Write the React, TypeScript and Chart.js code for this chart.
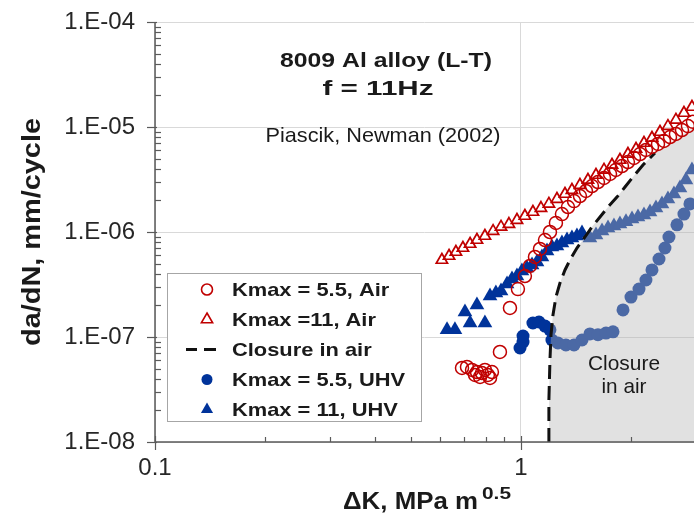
import React, { useEffect, useRef } from 'react';
import { Chart, registerables } from 'chart.js';

Chart.register(...registerables);

// ---------- data ----------
const redCircleX = [0.690, 0.712, 0.735, 0.749, 0.758, 0.773, 0.782, 0.797, 0.812, 0.823, 0.833, 0.876, 0.933, 0.981, 1.025, 1.058, 1.092, 1.127, 1.163, 1.200, 1.246, 1.294, 1.344, 1.396, 1.449, 1.505, 1.563, 1.623, 1.686, 1.751, 1.817, 1.888, 1.960, 2.036, 2.115, 2.195, 2.280, 2.368, 2.459, 2.554, 2.651, 2.754, 2.859, 2.950];
const redCircleY = [5.07e-8, 5.18e-8, 4.85e-8, 4.35e-8, 4.64e-8, 4.16e-8, 4.54e-8, 4.85e-8, 4.35e-8, 4.07e-8, 4.64e-8, 7.20e-8, 1.89e-7, 2.86e-7, 3.81e-7, 4.75e-7, 5.78e-7, 6.89e-7, 8.39e-7, 1.00e-6, 1.22e-6, 1.48e-6, 1.73e-6, 1.97e-6, 2.20e-6, 2.46e-6, 2.74e-6, 2.99e-6, 3.27e-6, 3.57e-6, 3.90e-6, 4.25e-6, 4.64e-6, 5.07e-6, 5.53e-6, 6.04e-6, 6.45e-6, 6.89e-6, 7.36e-6, 8.03e-6, 8.58e-6, 9.36e-6, 1.02e-5, 1.12e-5];

const redTriangleX = [0.608, 0.636, 0.664, 0.694, 0.726, 0.758, 0.797, 0.839, 0.882, 0.927, 0.975, 1.025, 1.078, 1.134, 1.192, 1.254, 1.319, 1.378, 1.449, 1.524, 1.603, 1.686, 1.773, 1.864, 1.960, 2.062, 2.168, 2.280, 2.398, 2.521, 2.651, 2.788, 2.932];
const redTriangleY = [5.41e-7, 5.91e-7, 6.45e-7, 7.04e-7, 7.69e-7, 8.39e-7, 9.16e-7, 1.02e-6, 1.12e-6, 1.19e-6, 1.30e-6, 1.42e-6, 1.55e-6, 1.69e-6, 1.85e-6, 2.06e-6, 2.30e-6, 2.51e-6, 2.80e-6, 3.13e-6, 3.49e-6, 3.90e-6, 4.35e-6, 4.85e-6, 5.53e-6, 6.17e-6, 7.04e-6, 7.86e-6, 8.96e-6, 1.02e-5, 1.17e-5, 1.36e-5, 1.55e-5];

const blueCircleX = [0.994, 1.013, 1.013, 1.078, 1.120, 1.163, 1.200, 1.215, 1.262, 1.327, 1.396, 1.468, 1.543, 1.623, 1.707, 1.784, 1.900, 1.998, 2.101, 2.195, 2.280, 2.383, 2.474, 2.537, 2.668, 2.788, 2.895];
const blueCircleY = [7.86e-8, 8.96e-8, 1.02e-7, 1.36e-7, 1.39e-7, 1.27e-7, 1.17e-7, 9.36e-8, 8.77e-8, 8.39e-8, 8.39e-8, 9.36e-8, 1.07e-7, 1.05e-7, 1.09e-7, 1.12e-7, 1.81e-7, 2.40e-7, 2.86e-7, 3.49e-7, 4.35e-7, 5.53e-7, 7.04e-7, 8.96e-7, 1.17e-6, 1.48e-6, 1.85e-6];

const blueTriangleX = [0.628, 0.660, 0.703, 0.726, 0.758, 0.797, 0.823, 0.854, 0.882, 0.916, 0.945, 0.975, 1.006, 1.038, 1.072, 1.106, 1.141, 1.178, 1.215, 1.254, 1.294, 1.336, 1.378, 1.422, 1.468, 1.543, 1.603, 1.665, 1.729, 1.795, 1.864, 1.936, 2.011, 2.088, 2.168, 2.252, 2.338, 2.428, 2.521, 2.618, 2.719, 2.823, 2.932];
const blueTriangleY = [1.17e-7, 1.17e-7, 1.73e-7, 1.36e-7, 2.02e-7, 1.36e-7, 2.46e-7, 2.62e-7, 2.74e-7, 3.20e-7, 3.57e-7, 3.81e-7, 4.25e-7, 4.54e-7, 4.85e-7, 5.18e-7, 5.78e-7, 6.59e-7, 7.20e-7, 7.36e-7, 7.86e-7, 8.39e-7, 8.77e-7, 9.16e-7, 9.78e-7, 8.77e-7, 9.36e-7, 1.02e-6, 1.09e-6, 1.14e-6, 1.19e-6, 1.25e-6, 1.33e-6, 1.39e-6, 1.45e-6, 1.55e-6, 1.69e-6, 1.85e-6, 2.06e-6, 2.30e-6, 2.62e-6, 3.13e-6, 3.90e-6];

const closureX = [1.192, 1.192, 1.200, 1.208, 1.223, 1.246, 1.278, 1.319, 1.361, 1.422, 1.496, 1.563, 1.644, 1.729, 1.829, 1.924, 2.023, 2.154, 2.323];
const closureY = [1.00e-8, 2.51e-8, 6.04e-8, 1.05e-7, 1.62e-7, 2.40e-7, 3.27e-7, 4.35e-7, 5.41e-7, 7.04e-7, 8.96e-7, 1.12e-6, 1.39e-6, 1.73e-6, 2.15e-6, 2.68e-6, 3.34e-6, 4.35e-6, 5.65e-6];
const shadeExtraX = [2.635, 2.970];
const shadeExtraY = [7.52e-6, 1.00e-5];

const xTickValues = [0.1, 1];
const xTickLabels = ['0.1', '1'];
const yTickValues = [1e-8, 1e-7, 1e-6, 1e-5, 1e-4];
const yTickLabels = ['1.E-08', '1.E-07', '1.E-06', '1.E-05', '1.E-04'];

const legendLabels = ['Kmax = 5.5, Air', 'Kmax =11, Air', 'Closure in air', 'Kmax = 5.5, UHV', 'Kmax = 11, UHV'];
const titleLines = ['8009 Al alloy (L-T)', 'f = 11Hz'];
const citation = 'Piascik, Newman (2002)';
const closureNote = ['Closure', 'in air'];
const yTitle = 'da/dN, mm/cycle';
const xTitleMain = '\u0394K, MPa m';
const xTitleSup = '0.5';

// ---------- styles ----------
const RED = '#c00000';
const NAVY = '#00339a';
const AXIS = '#5a5a5a';
const GRID = '#d9d9d9';
const TEXT = '#1a1a1a';
const FONT = "'Liberation Sans', Arial, Helvetica, sans-serif";

const pts = (xs: number[], ys: number[]) => xs.map((x, i) => ({ x, y: ys[i] }));

function isDecade(v: number) {
  const l = Math.log10(v);
  return Math.abs(l - Math.round(l)) < 1e-6;
}
function isIntMantissa(v: number) {
  const e = Math.floor(Math.log10(v) + 1e-9);
  const m = v / Math.pow(10, e);
  return Math.abs(m - Math.round(m)) < 1e-6;
}
function labelFor(v: number, values: number[], labels: string[]) {
  for (let i = 0; i < values.length; i++) {
    if (Math.abs(Math.log10(v) - Math.log10(values[i])) < 1e-6) return labels[i];
  }
  return '';
}

function drawText(ctx: CanvasRenderingContext2D, text: string, x: number, y: number, font: string, align: CanvasTextAlign, width?: number, scaleX?: number) {
  ctx.save();
  ctx.font = font;
  const w = ctx.measureText(text).width;
  const sx = width ? width / w : (scaleX || 1);
  ctx.translate(x, y);
  ctx.scale(sx, 1);
  ctx.textAlign = align;
  ctx.textBaseline = 'alphabetic';
  ctx.fillStyle = TEXT;
  ctx.fillText(text, 0, 0);
  ctx.restore();
}

function drawMarker(ctx: CanvasRenderingContext2D, kind: string, x: number, y: number, r: number, color: string, filled: boolean, lw: number) {
  ctx.save();
  ctx.beginPath();
  if (kind === 'circle') {
    ctx.arc(x, y, r, 0, Math.PI * 2);
  } else {
    const s = Math.sin(Math.PI / 3) * r;
    ctx.moveTo(x, y - r);
    ctx.lineTo(x + s, y + r / 2);
    ctx.lineTo(x - s, y + r / 2);
    ctx.closePath();
  }
  if (filled) {
    ctx.fillStyle = color;
    ctx.fill();
  } else {
    ctx.strokeStyle = color;
    ctx.lineWidth = lw;
    ctx.stroke();
  }
  ctx.restore();
}

const overlayPlugin = {
  id: 'overlay',
  afterDatasetsDraw(chart: any) {
    const ctx: CanvasRenderingContext2D = chart.ctx;
    const { left, right, top, bottom } = chart.chartArea;
    const xs = chart.scales.x;
    const ys = chart.scales.y;
    ctx.save();
    ctx.strokeStyle = AXIS;
    ctx.lineWidth = 1.5;
    ctx.beginPath();
    ctx.moveTo(left, top);
    ctx.lineTo(left, bottom);
    ctx.lineTo(right, bottom);
    ctx.stroke();
    ctx.lineWidth = 1.2;
    xs.ticks.forEach((t: any) => {
      const v = t.value;
      if (!isIntMantissa(v)) return;
      const px = Math.round(xs.getPixelForValue(v)) + 0.5;
      ctx.beginPath();
      if (isDecade(v)) {
        ctx.moveTo(px, bottom - 6);
        ctx.lineTo(px, bottom + 8);
      } else {
        ctx.moveTo(px, bottom - 5);
        ctx.lineTo(px, bottom);
      }
      ctx.stroke();
    });
    ys.ticks.forEach((t: any) => {
      const v = t.value;
      if (!isIntMantissa(v)) return;
      const py = Math.round(ys.getPixelForValue(v)) + 0.5;
      ctx.beginPath();
      if (isDecade(v)) {
        ctx.moveTo(left - 8, py);
        ctx.lineTo(left + 2, py);
      } else {
        ctx.moveTo(left, py);
        ctx.lineTo(left + 6, py);
      }
      ctx.stroke();
    });
    ctx.restore();
  },
  afterDraw(chart: any) {
    const ctx: CanvasRenderingContext2D = chart.ctx;
    // legend box
    ctx.save();
    ctx.fillStyle = '#ffffff';
    ctx.fillRect(167, 273, 255, 149);
    ctx.strokeStyle = '#a6a6a6';
    ctx.lineWidth = 1;
    ctx.strokeRect(167.5, 273.5, 254, 148);
    ctx.restore();
    const baselines = [296, 326, 356, 386, 416];
    const kinds = [
      { kind: 'circle', color: RED, filled: false, r: 5.5 },
      { kind: 'triangle', color: RED, filled: false, r: 6.5 },
      { kind: 'dash', color: '#111', filled: false, r: 0 },
      { kind: 'circle', color: NAVY, filled: true, r: 5.5 },
      { kind: 'triangle', color: NAVY, filled: true, r: 7 },
    ];
    legendLabels.forEach((lab, i) => {
      const by = baselines[i];
      const sy = by - 6.5;
      const k = kinds[i];
      if (k.kind === 'dash') {
        ctx.save();
        ctx.strokeStyle = k.color;
        ctx.lineWidth = 3;
        ctx.beginPath();
        ctx.moveTo(186, sy); ctx.lineTo(197, sy);
        ctx.moveTo(204, sy); ctx.lineTo(216, sy);
        ctx.stroke();
        ctx.restore();
      } else {
        drawMarker(ctx, k.kind, 207, sy, k.r, k.color, k.filled, 1.6);
      }
      drawText(ctx, lab, 232, by, `bold 19px ${FONT}`, 'left', undefined, 1.15);
    });
    // annotations
    drawText(ctx, titleLines[0], 386, 67, `bold 21px ${FONT}`, 'center', 212);
    drawText(ctx, titleLines[1], 378, 95, `bold 21px ${FONT}`, 'center', 111);
    drawText(ctx, citation, 383, 142, `21px ${FONT}`, 'center', 235);
    drawText(ctx, closureNote[0], 624, 370, `21px ${FONT}`, 'center', 72);
    drawText(ctx, closureNote[1], 624, 393, `21px ${FONT}`, 'center', 45);
    // axis titles
    ctx.save();
    ctx.translate(40, 232);
    ctx.rotate(-Math.PI / 2);
    drawText(ctx, yTitle, 0, 0, `bold 26px ${FONT}`, 'center', 228);
    ctx.restore();
    drawText(ctx, xTitleMain, 343, 509, `bold 23px ${FONT}`, 'left', 135);
    drawText(ctx, xTitleSup, 482, 499, `bold 16px ${FONT}`, 'left', 29);
  },
};

export default function App() {
  const ref = useRef<HTMLCanvasElement>(null);
  useEffect(() => {
    if (!ref.current) return;
    const chart = new Chart(ref.current, {
      type: 'scatter',
      data: {
        datasets: [
          {
            label: legendLabels[0],
            data: pts(redCircleX, redCircleY),
            pointStyle: 'circle',
            pointRadius: 6.5,
            borderWidth: 1.5,
            borderColor: RED,
            backgroundColor: 'rgba(0,0,0,0)',
          },
          {
            label: legendLabels[1],
            data: pts(redTriangleX, redTriangleY),
            pointStyle: 'triangle',
            pointRadius: 6.5,
            borderWidth: 1.7,
            borderColor: RED,
            backgroundColor: 'rgba(0,0,0,0)',
          },
          {
            label: legendLabels[2],
            data: pts(closureX, closureY),
            showLine: true,
            pointRadius: 0,
            borderColor: '#111111',
            borderWidth: 3,
            borderDash: [14, 7],
            fill: false,
          },
          {
            label: 'shade',
            data: pts(closureX.concat(shadeExtraX), closureY.concat(shadeExtraY)),
            showLine: true,
            pointRadius: 0,
            borderWidth: 0,
            borderColor: 'rgba(0,0,0,0)',
            backgroundColor: 'rgba(183,183,183,0.41)',
            fill: 'start',
          },
          {
            label: legendLabels[3],
            data: pts(blueCircleX, blueCircleY),
            pointStyle: 'circle',
            pointRadius: 6.5,
            borderWidth: 0,
            borderColor: NAVY,
            backgroundColor: NAVY,
          },
          {
            label: legendLabels[4],
            data: pts(blueTriangleX, blueTriangleY),
            pointStyle: 'triangle',
            pointRadius: 8.5,
            borderWidth: 0,
            borderColor: NAVY,
            backgroundColor: NAVY,
          },
        ] as any,
      },
      options: {
        responsive: false,
        animation: false,
        devicePixelRatio: 1,
        events: [],
        layout: { autoPadding: false, padding: { top: 22, left: 0, right: 0, bottom: 0 } },
        plugins: {
          legend: { display: false },
          tooltip: { enabled: false },
          title: { display: false },
        },
        scales: {
          x: {
            type: 'logarithmic',
            min: 0.1,
            max: 2.97,
            afterFit: (s: any) => { s.height = 77; s.paddingLeft = 0; s.paddingRight = 0; },
            border: { display: false },
            grid: {
              drawTicks: false,
              lineWidth: 1,
              color: (c: any) => (c.tick && isDecade(c.tick.value) ? GRID : 'rgba(0,0,0,0)'),
            },
            ticks: {
              autoSkip: false,
              maxRotation: 0,
              minRotation: 0,
              padding: 12,
              color: '#262626',
              font: { family: FONT, size: 24 },
              callback: (v: any) => labelFor(Number(v), xTickValues, xTickLabels),
            },
          },
          y: {
            type: 'logarithmic',
            min: 1e-8,
            max: 1e-4,
            afterFit: (s: any) => { s.width = 155; s.paddingTop = 0; s.paddingBottom = 0; },
            border: { display: false },
            grid: {
              drawTicks: false,
              lineWidth: 1,
              color: (c: any) => (c.tick && isDecade(c.tick.value) ? GRID : 'rgba(0,0,0,0)'),
            },
            ticks: {
              autoSkip: false,
              padding: 20,
              color: '#262626',
              font: { family: FONT, size: 24 },
              callback: (v: any) => labelFor(Number(v), yTickValues, yTickLabels),
            },
          },
        },
      } as any,
      plugins: [overlayPlugin as any],
    });
    return () => chart.destroy();
  }, []);
  return (
    <div style={{ position: 'absolute', left: 0, top: 0, width: 694, height: 519, background: '#ffffff' }}>
      <canvas ref={ref} width={694} height={519} style={{ display: 'block', width: 694, height: 519 }} />
    </div>
  );
}
